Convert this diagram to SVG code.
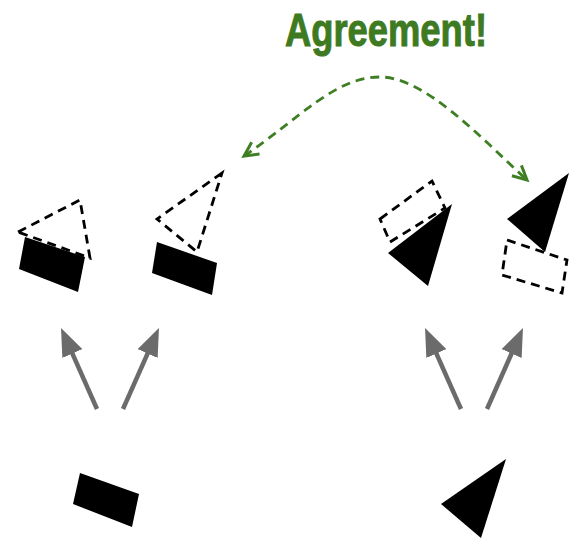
<svg xmlns="http://www.w3.org/2000/svg" width="573" height="539" viewBox="0 0 573 539">
  <style>
    .solid { fill: #000; stroke: none; }
    .dash { fill: none; stroke: #000; stroke-width: 2.8; stroke-dasharray: 9 6; stroke-linejoin: miter; }
    .gray { stroke: #6b6b6b; stroke-width: 4.5; fill: none; marker-end: url(#grayHead); }
    .agree { fill: none; stroke: #3f7f24; stroke-width: 2.8; stroke-dasharray: 9 6; marker-start: url(#greenHead); marker-end: url(#greenHead); }
    .title { font-family: "Liberation Sans", Arial, sans-serif; font-weight: bold; font-size: 47px; fill: #3d7a22; stroke: #3d7a22; stroke-width: 1; }
  </style>
  <defs>
    <marker id="grayHead" viewBox="0 0 28 22" markerWidth="28" markerHeight="22" refX="18" refY="11" orient="auto" markerUnits="userSpaceOnUse">
      <path d="M0,0 L28,11 L0,22 z" fill="#6b6b6b"/>
    </marker>
    <marker id="greenHead" viewBox="-2 -2 20 20" markerWidth="20" markerHeight="20" refX="14" refY="7" orient="auto-start-reverse" markerUnits="userSpaceOnUse" overflow="visible">
      <path d="M0,0 L14,7 L0,14" fill="none" stroke="#3f7f24" stroke-width="3"/>
    </marker>
  </defs>

  <g id="title">
    <text class="title" x="386" y="46" text-anchor="middle" textLength="202" lengthAdjust="spacingAndGlyphs">Agreement!</text>
  </g>

  <g id="connectors">
    <line class="gray" x1="97" y1="409" x2="65.1" y2="337.1"/>
    <line class="gray" x1="123" y1="409" x2="154.9" y2="337.1"/>
    <line class="gray" x1="461" y1="409" x2="429.1" y2="337.1"/>
    <line class="gray" x1="487" y1="409" x2="518.9" y2="337.1"/>
    <path class="agree" d="M244,156 C300,118 335,77 380,77 C425,77 480,137 527,180"/>
  </g>

  <g id="rect-source">
    <polygon class="solid" points="80,473 139,494 132,527 73,504"/>
  </g>

  <g id="triangle-source">
    <polygon class="solid" points="506,459 441,504 481,538"/>
  </g>

  <g id="pose-left-1">
    <polygon class="dash" points="18,232 80,200 90,258"/>
    <polygon class="solid" points="25,237 85,257 78,292 19,269"/>
  </g>

  <g id="pose-left-2">
    <polygon class="dash" points="222,173 157,219 197,252"/>
    <polygon class="solid" points="157,242 217,263 212,295 152,273"/>
  </g>

  <g id="pose-right-1">
    <polygon class="dash" points="380,219 432,181 445,208 390,242"/>
    <polygon class="solid" points="388,253 452,204 428,286"/>
  </g>

  <g id="pose-right-2">
    <polygon class="solid" points="569,173 507,219 545,252"/>
    <polygon class="dash" points="507,240 567,260 562,293 502,275"/>
  </g>
</svg>
